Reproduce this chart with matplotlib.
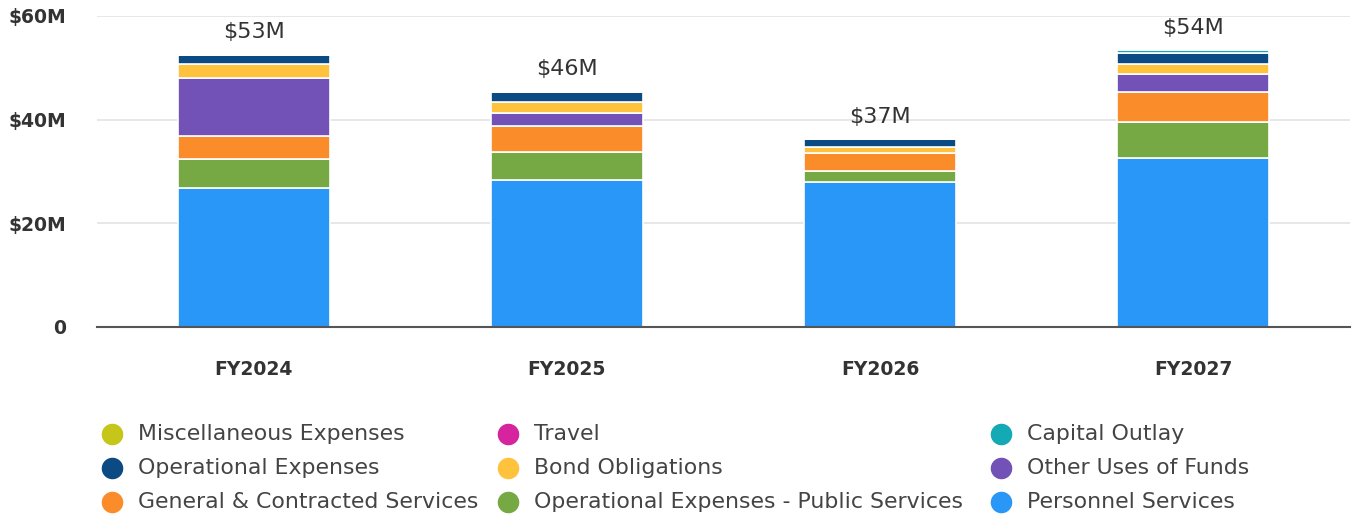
import matplotlib
matplotlib.use("Agg")
import matplotlib.pyplot as plt
from matplotlib.lines import Line2D
import numpy as np

plt.rcParams['font.family'] = ['DejaVu Sans']

years = ["FY2024", "FY2025", "FY2026", "FY2027"]
personnel = [26.8, 28.3, 27.9, 32.6]
op_public = [5.7, 5.4, 2.2, 6.9]
general = [4.4, 5.0, 3.5, 5.8]
other_uses = [11.2, 2.6, 0.0, 3.6]
bond = [2.6, 2.2, 1.1, 1.8]
operational = [1.8, 1.9, 1.5, 2.2]
travel = [0.0, 0.0, 0.0, 0.0]
capital = [0.0, 0.0, 0.0, 0.5]
misc = [0.0, 0.0, 0.0, 0.0]
total_labels = ["$53M", "$46M", "$37M", "$54M"]
ytick_vals = [0, 20, 40, 60]
ytick_labels = ["0", "$20M", "$40M", "$60M"]

series = [
    ("Personnel Services", personnel, "#2997f7"),
    ("Operational Expenses - Public Services", op_public, "#76a844"),
    ("General & Contracted Services", general, "#fb8c2a"),
    ("Other Uses of Funds", other_uses, "#7352b8"),
    ("Bond Obligations", bond, "#ffc23d"),
    ("Operational Expenses", operational, "#0b4a82"),
    ("Travel", travel, "#d6249f"),
    ("Capital Outlay", capital, "#14aab5"),
    ("Miscellaneous Expenses", misc, "#c5c51a"),
]
colors = {name: c for name, _, c in series}

fig = plt.figure(figsize=(13.53, 5.16), dpi=100)
ax = fig.add_axes([97/1353, 189/516, 1253/1353, 311/516])

x = np.arange(len(years))
bottom = np.zeros(len(years))
for name, vals, c in series:
    v = np.array(vals, dtype=float)
    ax.bar(x, v, bottom=bottom, width=0.485, color=c, edgecolor="white", linewidth=1.2, zorder=3)
    bottom += v

for xi, tot, lab in zip(x, bottom, total_labels):
    ax.annotate(lab, (xi, tot), xytext=(0, 9), textcoords="offset points",
                ha="center", va="bottom", fontsize=16, color="#333333")

ax.set_xlim(-0.5, len(years) - 0.5)
ax.set_ylim(0, 60)
ax.set_yticks(ytick_vals)
ax.set_yticklabels(ytick_labels, fontsize=13.5, fontweight="bold", color="#333333")
ax.set_xticks(x)
ax.set_xticklabels(years, fontsize=13.5, fontweight="bold", color="#333333")
ax.tick_params(axis="y", length=0, pad=22)
ax.tick_params(axis="x", length=0, pad=24)
ax.grid(axis="y", color="#e3e3e3", linewidth=1.2, zorder=0)
for s in ["top", "right", "left"]:
    ax.spines[s].set_visible(False)
ax.spines["bottom"].set_color("#555555")
ax.spines["bottom"].set_linewidth(1.5)
ax.spines["bottom"].set_zorder(4)

legend_rows = [
    ["Miscellaneous Expenses", "Travel", "Capital Outlay"],
    ["Operational Expenses", "Bond Obligations", "Other Uses of Funds"],
    ["General & Contracted Services", "Operational Expenses - Public Services", "Personnel Services"],
]
col_x = [112, 508, 1001]
row_y = [434, 468, 502]
for r, row in enumerate(legend_rows):
    for cidx, name in enumerate(row):
        mx = col_x[cidx] / 1353
        my = 1 - row_y[r] / 516
        fig.add_artist(Line2D([mx], [my], marker="o", markersize=14.5, color=colors[name],
                              linestyle="none", transform=fig.transFigure))
        fig.text((col_x[cidx] + 26) / 1353, my, name, fontsize=15.8, color="#444444",
                 ha="left", va="center")

fig.savefig("out.png", dpi=100)
